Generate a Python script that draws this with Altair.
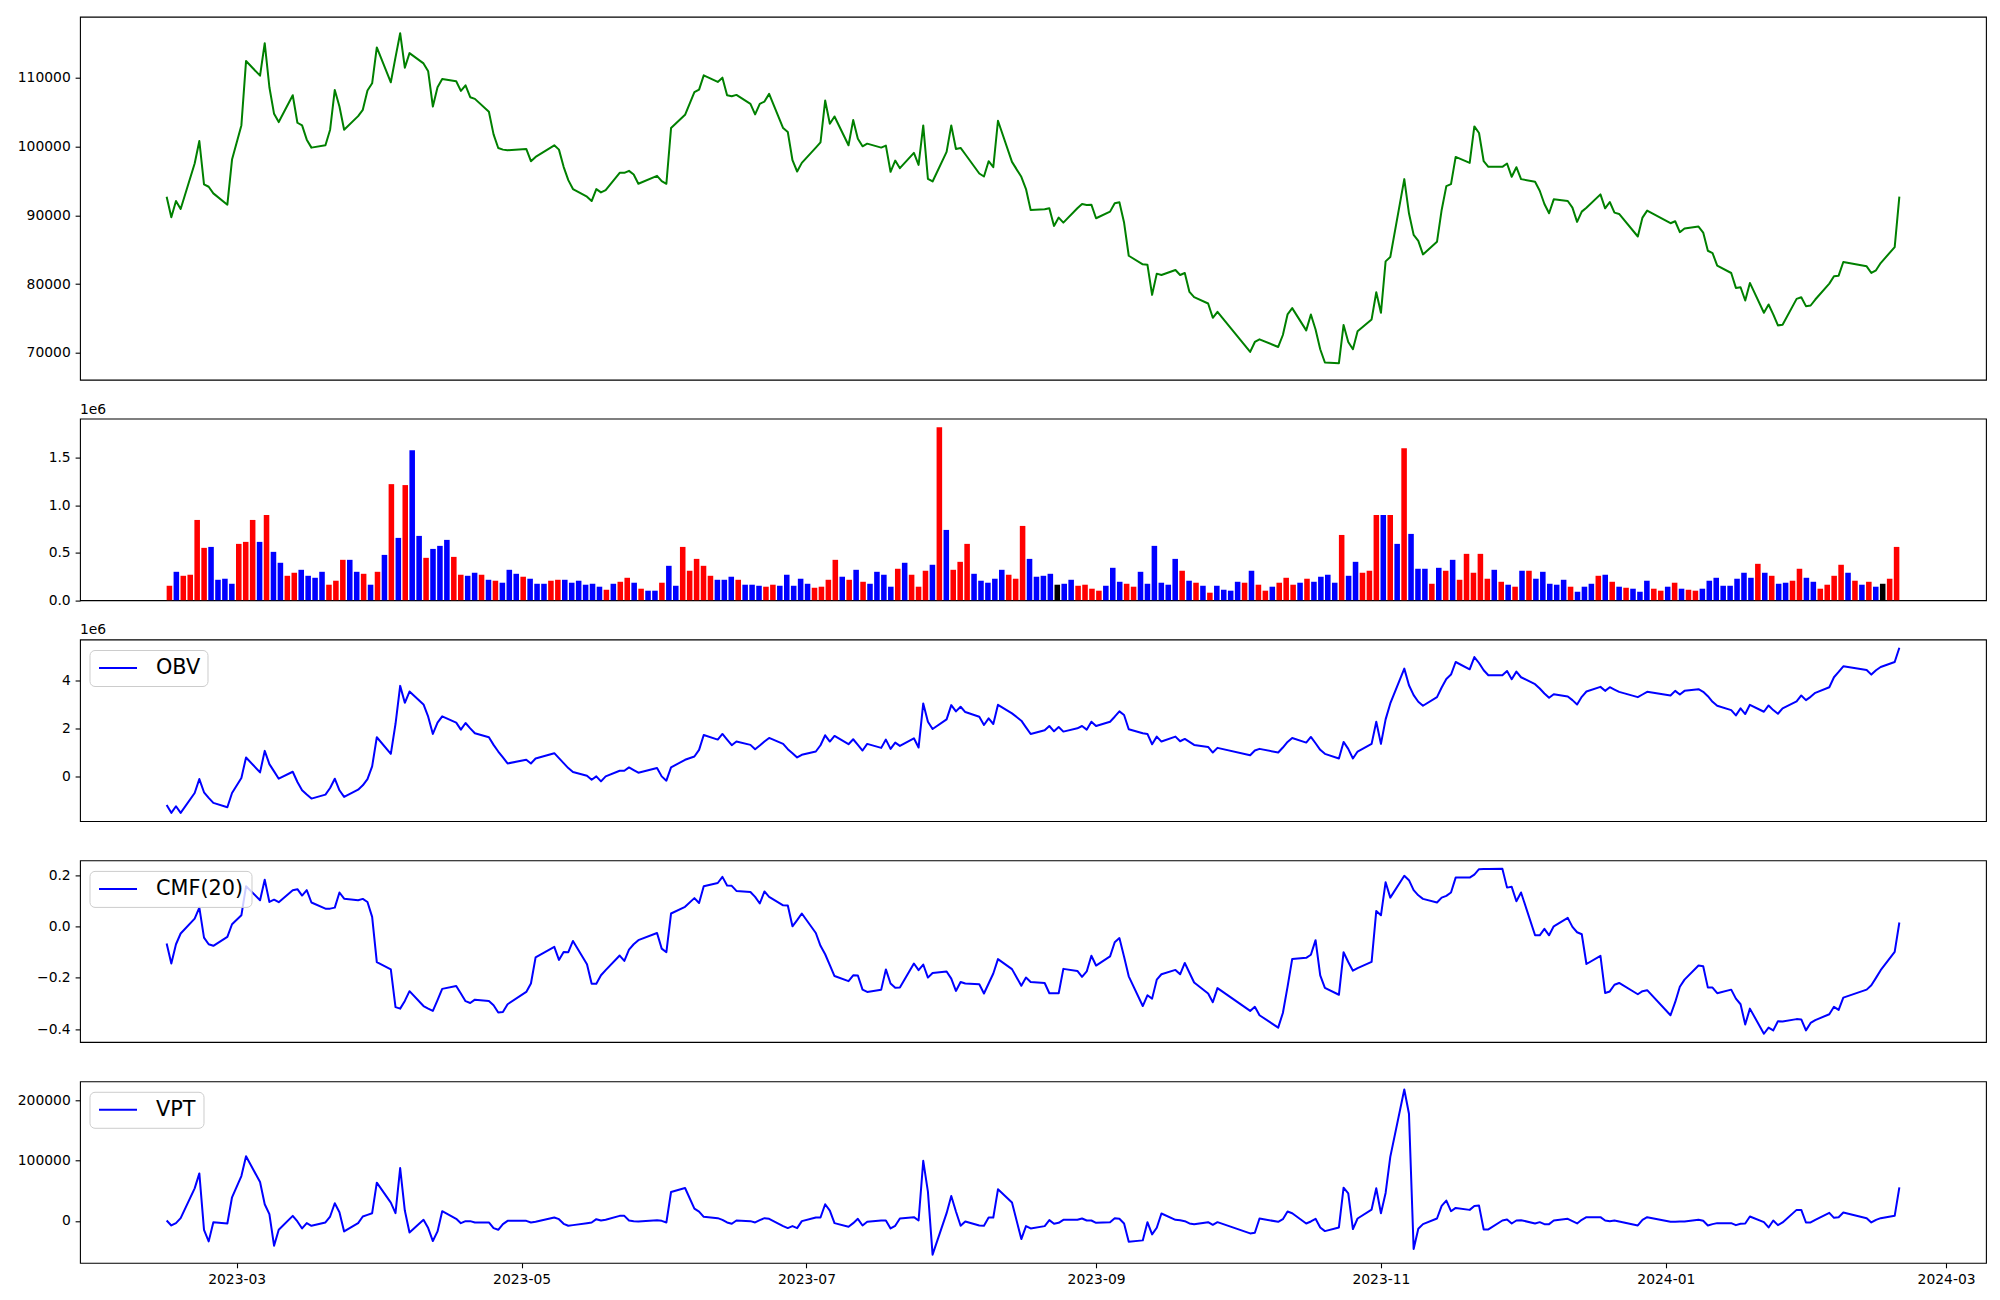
import altair as alt
import pandas as pd

# ---------------- data ----------------
holidays = ["2023-03-01", "2023-05-01", "2023-05-05", "2023-05-29", "2023-06-06",
            "2023-08-15", "2023-09-28", "2023-09-29", "2023-10-02", "2023-10-03",
            "2023-10-09", "2023-12-25", "2023-12-29", "2024-01-01", "2024-02-09",
            "2024-02-12"]
trade_dates = [d.strftime("%Y-%m-%d") for d in pd.bdate_range("2023-02-14", "2024-02-20")
               if d.strftime("%Y-%m-%d") not in holidays]

close = [
    92691, 89703, 92065, 90908, 97511, 100789, 94474, 94137, 93173, 91534, 98089,
    103054, 112405, 110284, 115007, 108597, 104739, 103536, 107440, 103439, 103054, 100981,
    99825, 100162, 102427, 108211, 105801, 102427, 104404, 105319, 108115, 109175, 114381,
    109320, 112935, 116454, 111441, 113562, 112067, 110911, 105801, 108597, 109802,
    109465, 108067, 108886, 107151, 106910, 105030, 101753, 99777, 99535, 99439,
    99632, 97848, 98475, 100162, 99535, 97029, 95101, 93800, 92691, 92065,
    93800, 93318, 93655, 96161, 96161, 96450, 95920, 94569, 95726, 94955,
    94569, 102668, 104596, 107874, 108259, 110332, 109368, 109995, 107440, 107295, 107488,
    106187, 104645, 106187, 106524, 107633, 102668, 102090, 97993, 96354, 97607,
    99825, 100596, 106669, 103295, 104355, 100162, 103825, 101126, 100017, 100403, 99825,
    100114, 96306, 97945, 96836, 99054, 97318, 103054, 95294, 94908, 99198,
    103054, 99632, 99777, 98861, 96065, 95631, 97848, 96981, 103729, 97752, 95583,
    93800, 90763, 90859, 91004, 88449, 89654, 88931, 91004, 91631, 91486, 91534,
    89558, 90522, 91727, 91872, 88931, 84111, 82858, 82810, 78423, 81509,
    81316, 82039, 81316, 81605, 78858, 78087, 77171, 75098, 75966,
    70133, 71579, 71965, 70856, 72592, 75580, 76497, 73267, 75580, 73400,
    70519, 68591, 68495, 74049, 71579, 70519, 73122, 74857, 78809,
    75821, 83292, 83918, 95246, 90281, 87148, 86280, 84304, 86136, 90763, 94233,
    94522, 98475, 97607, 102909, 101945, 97848, 97029, 97029, 97511, 95583, 96981,
    95246, 94860, 93559, 91631, 90281, 92305, 92065, 91101, 89028, 90522,
    91101, 93029, 91004, 91920, 90377, 90185, 86907, 89654, 90666,
    88835, 89124, 87534, 88064, 88353, 87485, 84834, 84497, 82665, 81605, 79436,
    79532, 77604, 80159, 75821, 77026, 75580, 73989, 74086, 77845, 78086, 76785,
    76881, 77749, 80063, 81123, 81219, 83195, 82569, 81605, 81991, 83051, 85365, 92691,
]

# volume in millions (axis offset "1e6"), one bar per trading session
volume_m = [
    0.152, 0.299, 0.257, 0.268, 0.845, 0.551, 0.561, 0.215, 0.226, 0.173, 0.593,
    0.614, 0.845, 0.614, 0.897, 0.509, 0.394, 0.257, 0.289, 0.320, 0.257,
    0.236, 0.299, 0.163, 0.205, 0.425, 0.425, 0.299, 0.278, 0.163, 0.299,
    0.477, 1.222, 0.656, 1.212, 1.579, 0.677, 0.446, 0.540, 0.572, 0.635,
    0.456, 0.268, 0.257, 0.289, 0.268, 0.215, 0.205, 0.184, 0.320, 0.278,
    0.247, 0.226, 0.173, 0.173, 0.205, 0.215, 0.215, 0.184, 0.205, 0.163,
    0.173, 0.142, 0.110, 0.173, 0.194, 0.236, 0.184, 0.121, 0.100, 0.100,
    0.184, 0.362, 0.152, 0.561, 0.310, 0.435, 0.362, 0.257, 0.215, 0.215, 0.247, 0.215,
    0.163, 0.163, 0.152, 0.142, 0.163, 0.152, 0.268, 0.152, 0.226, 0.173,
    0.131, 0.142, 0.215, 0.425, 0.247, 0.215, 0.320, 0.194, 0.173, 0.299,
    0.268, 0.142, 0.331, 0.394, 0.268, 0.142, 0.310, 0.373, 1.821, 0.740,
    0.320, 0.404, 0.593, 0.278, 0.205, 0.184, 0.226, 0.320, 0.268, 0.226,
    0.782, 0.435, 0.247, 0.257, 0.278, 0.163, 0.173, 0.215, 0.152, 0.163,
    0.121, 0.100, 0.152, 0.341, 0.194, 0.173, 0.142, 0.299, 0.173, 0.572,
    0.184, 0.163, 0.435, 0.310, 0.205, 0.184, 0.152, 0.079, 0.152, 0.110,
    0.100, 0.194, 0.184, 0.310, 0.163, 0.100, 0.142, 0.184, 0.236, 0.163,
    0.184, 0.226, 0.194, 0.247, 0.268, 0.184, 0.687, 0.257, 0.404, 0.289,
    0.310, 0.897, 0.897, 0.897, 0.593, 1.600, 0.698, 0.331, 0.331, 0.173,
    0.341, 0.310, 0.425, 0.215, 0.488, 0.289, 0.488, 0.226, 0.320, 0.194,
    0.163, 0.142, 0.310, 0.310, 0.226, 0.299, 0.173, 0.163, 0.215, 0.142,
    0.089, 0.142, 0.173, 0.257, 0.268, 0.194, 0.142, 0.131, 0.121, 0.089,
    0.205, 0.121, 0.100, 0.142, 0.184, 0.121, 0.110, 0.100, 0.121, 0.205,
    0.236, 0.152, 0.152, 0.226, 0.289, 0.236, 0.383, 0.289, 0.257, 0.173,
    0.184, 0.205, 0.331, 0.236, 0.194, 0.121, 0.163, 0.257, 0.373, 0.289,
    0.205, 0.163, 0.194, 0.142, 0.173, 0.226, 0.561,
]

# session direction: u = up (red), d = down (blue), f = flat (black)
direction_codes = (
    "u d u u u u d d d d u "
    "u u d u d d u u d d "
    "d d u u u d d u d u "
    "d u d u d d u d d d "
    "u u d d u d u d d d "
    "u d d d u u d d d d "
    "d d u d u u d u d d "
    "u d d u u u u u d d d u "
    "d d d u u d d d d d "
    "u u u u d u d u d d "
    "d d u d u u u d u d "
    "u u u d d d d d u u "
    "u d d d d f d d u u "
    "u u d d d u u d d d "
    "d d d u d u d u d d "
    "d d u d u u d u u u "
    "d u d d d d u d d u "
    "u u d u d u d d d u "
    "d u d u u u u u d u "
    "d u d u d d d d d u "
    "d d d u d u d u d d "
    "d u u d u d u u d d "
    "d d d d d d u d u d "
    "d u u d d u u u u d "
    "u d u d f u u"
).split()

# OBV in millions (axis offset "1e6")
obv_m = [
    -1.163, -1.493, -1.218, -1.493, -0.668, -0.090, -0.640, -0.874, -1.081, -1.259, -0.668,
    -0.048, 0.805, 0.186, 1.080, 0.530, 0.227, -0.076, 0.213, -0.213, -0.557, -0.736,
    -0.902, -0.736, -0.461, -0.076, -0.557, -0.833, -0.530, -0.351, -0.090, 0.433, 1.645,
    0.956, 2.195, 3.778, 3.076, 3.544, 3.007, 2.498, 1.782, 2.250, 2.512,
    2.250, 1.961, 2.236, 2.016, 1.810, 1.645, 1.328, 1.053, 0.805, 0.557,
    0.709, 0.557, 0.764, 0.984, 0.777, 0.571, 0.365, 0.199, 0.048, -0.117,
    0.021, -0.186, 0.021, 0.255, 0.255, 0.392, 0.282, 0.172, 0.365, 0.021,
    -0.158, 0.392, 0.709, 0.846, 1.122, 1.741, 1.548, 1.782, 1.548, 1.314, 1.466,
    1.328, 1.149, 1.301, 1.466, 1.617, 1.369, 1.149, 0.984, 0.805, 0.915,
    1.053, 1.314, 1.727, 1.466, 1.700, 1.356, 1.562, 1.328, 1.094, 1.369, 1.204,
    1.548, 1.163, 1.424, 1.287, 1.603, 1.218, 3.048, 2.291, 1.989, 2.388,
    2.980, 2.718, 2.911, 2.691, 2.498, 2.154, 2.429, 2.195, 2.993, 2.635, 2.333,
    2.057, 1.782, 1.934, 2.112, 1.892, 2.071, 1.879, 2.016, 2.112, 1.961, 2.291,
    2.112, 2.291, 2.498, 2.718, 2.567, 1.975, 1.810, 1.782, 1.356, 1.672,
    1.466, 1.672, 1.479, 1.576, 1.452, 1.328, 1.245, 1.011, 1.204,
    0.901, 1.094, 1.163, 1.011, 1.218, 1.452, 1.617, 1.424, 1.658, 1.397,
    1.122, 0.956, 0.764, 1.452, 1.163, 0.764, 1.053, 1.369, 2.291,
    1.369, 2.388, 3.048, 4.494, 3.805, 3.393, 3.117, 2.952, 3.310, 3.709, 4.067,
    4.246, 4.769, 4.466, 4.975, 4.728, 4.425, 4.218, 4.218, 4.397, 4.053, 4.370,
    4.136, 3.847, 3.668, 3.461, 3.282, 3.434, 3.337, 3.186, 3.007, 3.324,
    3.544, 3.737, 3.571, 3.723, 3.626, 3.530, 3.310, 3.420, 3.530,
    3.379, 3.571, 3.420, 3.571, 3.640, 3.530, 3.351, 3.117, 2.952, 2.773, 2.553,
    2.842, 2.608, 2.993, 2.704, 2.966, 2.773, 2.622, 2.842, 3.131, 3.379, 3.186,
    3.324, 3.489, 3.723, 4.136, 4.356, 4.590, 4.439, 4.246, 4.425, 4.562, 4.769, 5.361,
]

cmf20 = [
    -0.066, -0.144, -0.069, -0.027, 0.031, 0.074, -0.043, -0.069, -0.075, -0.040, 0.009,
    0.044, 0.157, 0.103, 0.183, 0.096, 0.105, 0.095, 0.142, 0.146, 0.121, 0.142,
    0.094, 0.070, 0.070, 0.074, 0.133, 0.109, 0.103, 0.108, 0.096, 0.038, -0.139,
    -0.167, -0.314, -0.320, -0.290, -0.252, -0.310, -0.320, -0.329, -0.287, -0.243,
    -0.232, -0.261, -0.291, -0.298, -0.285, -0.290, -0.307, -0.335, -0.333, -0.303,
    -0.255, -0.222, -0.120, -0.079, -0.130, -0.099, -0.100, -0.056, -0.147, -0.223,
    -0.223, -0.190, -0.170, -0.113, -0.134, -0.090, -0.069, -0.053, -0.025, -0.086,
    -0.100, 0.051, 0.077, 0.111, 0.092, 0.157, 0.170, 0.194, 0.160, 0.159, 0.139,
    0.135, 0.116, 0.090, 0.137, 0.116, 0.083, 0.082, 0.001, 0.025, 0.051,
    -0.025, -0.075, -0.108, -0.150, -0.193, -0.213, -0.190, -0.191, -0.246, -0.255, -0.246,
    -0.167, -0.222, -0.239, -0.238, -0.144, -0.170, -0.148, -0.199, -0.181, -0.175,
    -0.203, -0.251, -0.216, -0.222, -0.225, -0.261, -0.222, -0.183, -0.127, -0.166, -0.231,
    -0.199, -0.216, -0.220, -0.260, -0.260, -0.260, -0.165, -0.173, -0.196, -0.175, -0.114,
    -0.152, -0.116, -0.061, -0.045, -0.118, -0.194, -0.310, -0.268, -0.281, -0.207,
    -0.186, -0.169, -0.186, -0.142, -0.180, -0.218, -0.261, -0.295, -0.240,
    -0.329, -0.313, -0.346, -0.394, -0.337, -0.235, -0.126, -0.122, -0.110, -0.053,
    -0.190, -0.239, -0.266, -0.100, -0.138, -0.172, -0.162, -0.138, 0.061,
    0.044, 0.173, 0.113, 0.198, 0.181, 0.142, 0.122, 0.108, 0.094, 0.113, 0.120,
    0.133, 0.191, 0.191, 0.203, 0.224, 0.225, 0.225, 0.226, 0.152, 0.155, 0.099,
    0.133, -0.034, -0.034, -0.009, -0.034, 0.001, 0.034, -0.001, -0.022, -0.030,
    -0.146, -0.114, -0.259, -0.253, -0.227, -0.220, -0.264, -0.252, -0.248,
    -0.346, -0.295, -0.235, -0.207, -0.152, -0.155, -0.238, -0.238, -0.260, -0.246, -0.281,
    -0.303, -0.382, -0.320, -0.418, -0.394, -0.405, -0.369, -0.370, -0.361, -0.362, -0.405,
    -0.376, -0.365, -0.342, -0.313, -0.325, -0.277, -0.246, -0.229, -0.200, -0.170, -0.099, 0.016,
]

vpt = [
    638, -7613, -3754, 4498, 54007, 78760, -14756, -34010, -2103, -4303, 39154,
    74360, 107366, 64458, 27601, 11098, -41161, -14756, 8348, -1004, -12556, -3754,
    -8155, -2653, 7248, 29252, 14399, -17507, -3754, 7248, 10000, 12749, 63358,
    30352, 12749, 87563, 17150, -19157, 1747, -12006, -33460, -17507, 16050,
    3397, -3754, -454, -454, -2653, -2653, -12006, -14756, -5405, 88,
    88, -2653, -1554, 5588, 2837, -4854, -8155, -7055, -3754, -2653,
    2837, 638, 1747, 8348, 8348, 638, -454, -1004, 1187, 88,
    -2653, 47955, 54556, 20450, 15499, 6698, 4498, 1747, -2653, -4854, 638,
    -454, -2653, 1187, 4498, 3397, -8705, -12006, -8705, -12006, -454,
    5588, 5588, 27601, 17150, -3754, -9806, -3754, 3397, -7605, -1554, 638,
    638, -12556, -8155, 3948, 6147, 638, 99665, 48505, -56014, 12749,
    41354, 15499, -8155, -1004, -7605, -8155, 5588, 5588, 52357, 30352, -30159,
    -8705, -12556, -8705, 1187, -4854, -3204, 1747, 1747, 3948, 638, 638,
    -3204, -2103, 4498, 3397, -4303, -34560, -32360, -2103, -22458, -11456,
    12199, 1747, 1187, -454, -4303, -5405, -2103, -6504, -2103,
    -20807, -19707, 3948, -1554, 2837, 15499, 12749, -4303, -1004, 3397,
    -10905, -16956, -10905, 55107, 45755, -13656, 3948, 18800, 54007,
    12749, 46305, 106266, 217936, 177779, -46662, -13106, -5405, 3948, 24851, 33653,
    16050, 21551, 18250, 24851, 25401, -14206, -14206, 638, 2297, -4303, 638,
    1187, -4303, -2103, -5405, -5405, 638, 3397, -454, -4303, 1747,
    6147, 6147, 638, -454, 638, -1004, -7605, 1747, 6147,
    -1554, -1554, -1004, -1004, 1747, 88, -7605, -5405, -3754, -3754, -7055,
    -4854, -4303, 7248, -2103, -10905, 638, -7055, -2653, 18250, 18250, -2653,
    -2653, 1747, 13298, 5048, 6147, 13848, 4498, -2653, 1747, 4498, 8348, 55656,
]

month_ticks = ["2023-03-01", "2023-05-01", "2023-07-01", "2023-09-01",
               "2023-11-01", "2024-01-01", "2024-03-01"]

# ---------------- tables ----------------
n = min(len(trade_dates), len(close), len(obv_m), len(cmf20), len(vpt))
df = pd.DataFrame({
    "date": trade_dates[:n], "close": close[:n], "obv": obv_m[:n],
    "cmf": cmf20[:n], "vpt": vpt[:n],
})
nv = min(len(volume_m), len(direction_codes))
code_name = {"u": "up", "d": "down", "f": "flat"}
vdf = pd.DataFrame({
    "idx": list(range(nv)),
    "volume": volume_m[:nv],
    "direction": [code_name[c] for c in direction_codes[:nv]],
})
vdf["lo"] = vdf["idx"] - 0.4
vdf["hi"] = vdf["idx"] + 0.4


def ms(ts):
    return int(pd.Timestamp(ts).value // 10**6)


def padded(lo, hi, frac=0.05):
    span = hi - lo
    return [lo - span * frac, hi + span * frac]


t0, t1 = pd.Timestamp(trade_dates[0]), pd.Timestamp(trade_dates[n - 1])
tspan = t1 - t0
x_domain = [ms(t0 - tspan * 0.05), ms(t1 + tspan * 0.05)]
v_domain = padded(-0.4, nv - 1 + 0.4)

W = 1906
H1 = 363
H = 181.6
FONT = "DejaVu Sans"
TICK = 13.9

xdate_hidden = alt.X("date:T", scale=alt.Scale(type="utc", domain=x_domain), axis=None)


def legend_layers(label, box_w):
    one = pd.DataFrame({"t": [label]})
    box = alt.Chart(one).mark_rect(
        fill="white", fillOpacity=0.8, stroke="#cccccc", strokeWidth=1, cornerRadius=5
    ).encode(x=alt.value(10), x2=alt.value(10 + box_w), y=alt.value(11), y2=alt.value(47))
    sample = alt.Chart(one).mark_rule(color="#0000ff", strokeWidth=2).encode(
        x=alt.value(19), x2=alt.value(57), y=alt.value(28.5))
    txt = alt.Chart(one).mark_text(
        align="left", baseline="alphabetic", fontSize=20.8, font=FONT, color="black"
    ).encode(x=alt.value(76), y=alt.value(35), text="t:N")
    return [box, sample, txt]


def offset_text(label):
    one = pd.DataFrame({"t": [label]})
    return alt.Chart(one).mark_text(
        align="left", baseline="alphabetic", fontSize=TICK, font=FONT, color="black"
    ).encode(x=alt.value(0), y=alt.value(-5), text="t:N")


# Panel 1: price
p1 = alt.Chart(df).mark_line(color="#008000", strokeWidth=2, strokeJoin="round").encode(
    x=xdate_hidden,
    y=alt.Y("close:Q",
            scale=alt.Scale(domain=padded(min(close[:n]), max(close[:n])), nice=False, zero=False),
            axis=alt.Axis(values=[70000, 80000, 90000, 100000, 110000], format="d", title=None)),
).properties(width=W, height=H1)

# Panel 2: volume bars
bars = alt.Chart(vdf).mark_bar().encode(
    x=alt.X("lo:Q", scale=alt.Scale(domain=v_domain, nice=False, zero=False), axis=None),
    x2="hi:Q",
    y=alt.Y("volume:Q", scale=alt.Scale(domain=[0, max(volume_m[:nv]) * 1.05], nice=False),
            axis=alt.Axis(values=[0, 0.5, 1.0, 1.5], format=".1f", title=None)),
    y2=alt.datum(0),
    color=alt.Color("direction:N",
                    scale=alt.Scale(domain=["up", "down", "flat"],
                                    range=["#ff0000", "#0000ff", "#000000"]),
                    legend=None),
)
p2 = alt.layer(bars, offset_text("1e6")).properties(width=W, height=H)

# Panel 3: OBV
obv_line = alt.Chart(df).mark_line(color="#0000ff", strokeWidth=2, strokeJoin="round").encode(
    x=xdate_hidden,
    y=alt.Y("obv:Q",
            scale=alt.Scale(domain=padded(min(obv_m[:n]), max(obv_m[:n])), nice=False, zero=False),
            axis=alt.Axis(values=[0, 2, 4], format="d", title=None)),
)
p3 = alt.layer(obv_line, *legend_layers("OBV", 118), offset_text("1e6")).properties(width=W, height=H)

# Panel 4: CMF(20)
cmf_line = alt.Chart(df).mark_line(color="#0000ff", strokeWidth=2, strokeJoin="round").encode(
    x=xdate_hidden,
    y=alt.Y("cmf:Q",
            scale=alt.Scale(domain=padded(min(cmf20[:n]), max(cmf20[:n])), nice=False, zero=False),
            axis=alt.Axis(values=[-0.4, -0.2, 0.0, 0.2], format=".1f", title=None)),
)
p4 = alt.layer(cmf_line, *legend_layers("CMF(20)", 162)).properties(width=W, height=H)

# Panel 5: VPT with date axis
vpt_line = alt.Chart(df).mark_line(color="#0000ff", strokeWidth=2, strokeJoin="round").encode(
    x=alt.X("date:T", scale=alt.Scale(type="utc", domain=x_domain),
            axis=alt.Axis(values=[ms(m) for m in month_ticks], format="%Y-%m", title=None,
                          labelAlign="center")),
    y=alt.Y("vpt:Q",
            scale=alt.Scale(domain=padded(min(vpt[:n]), max(vpt[:n])), nice=False, zero=False),
            axis=alt.Axis(values=[0, 100000, 200000], format="d", title=None)),
)
p5 = alt.layer(vpt_line, *legend_layers("VPT", 114)).properties(width=W, height=H)

chart = alt.vconcat(p1, p2, p3, p4, p5, spacing=38.9, bounds="flush").properties(
    padding={"left": 8, "top": 7.7, "right": 5, "bottom": 5},
    background="white",
).configure_view(
    stroke="black", strokeWidth=1.1
).configure_axis(
    domain=False, grid=False, ticks=True, tickColor="black", tickSize=4.9, tickWidth=1.1,
    labelColor="black", labelFont=FONT, labelFontSize=TICK, labelPadding=4.9,
)

chart.save("out.html", embed_options={"renderer": "svg", "actions": False})
